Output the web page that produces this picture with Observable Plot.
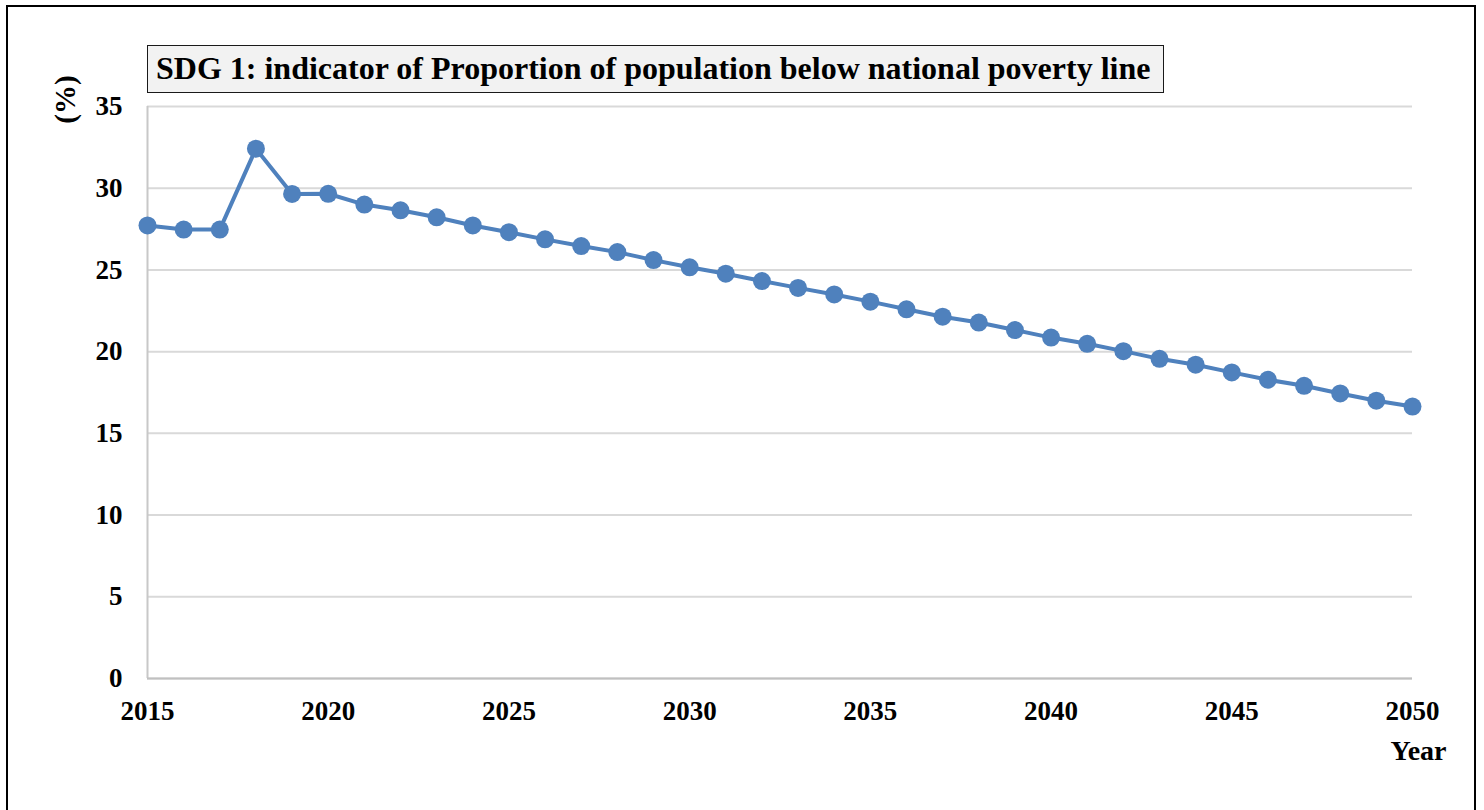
<!DOCTYPE html>
<html>
<head>
<meta charset="utf-8">
<script src="https://cdn.jsdelivr.net/npm/d3@7"></script>
<script src="https://cdn.jsdelivr.net/npm/@observablehq/plot@0.6"></script>
<style>
  html, body { margin: 0; padding: 0; background: #fff; overflow: hidden; width: 1484px; height: 810px; }
  #frame { position: absolute; left: 6px; top: 5px; width: 1470px; height: 830px; border: 2px solid #000; box-sizing: border-box; }
  #title { position: absolute; z-index: 2; left: 147px; top: 45px; width: 1017px; height: 48px; box-sizing: border-box;
           background: #f2f2f2; border: 1.5px solid #1a1a1a; font-family: "Liberation Serif", serif; font-weight: bold;
           font-size: 32px; line-height: 44px; padding-left: 8px; white-space: nowrap; color: #000; overflow: hidden; }
  #chart { position: absolute; z-index: 1; left: 0; top: 0; }
</style>
</head>
<body>
<div id="frame"></div>
<div id="chart"></div>
<div id="title"></div>
<script>
const titleText = "SDG 1: indicator of Proportion of population below national poverty line";
const years = d3.range(2015, 2051);
const values = [27.72, 27.47, 27.47, 32.42, 29.65, 29.66, 29.0, 28.65, 28.22, 27.72,
                27.31, 26.87, 26.46, 26.09, 25.6, 25.16, 24.77, 24.32, 23.9, 23.5,
                23.06, 22.59, 22.14, 21.78, 21.32, 20.86, 20.48, 20.03, 19.56, 19.2,
                18.73, 18.28, 17.91, 17.44, 17.0, 16.64];
const xTicks = [2015, 2020, 2025, 2030, 2035, 2040, 2045, 2050];
const yTicks = [0, 5, 10, 15, 20, 25, 30, 35];
const yLabel = "(%)";
const xLabel = "Year";

document.getElementById("title").textContent = titleText;

const data = years.map((y, i) => ({year: y, value: values[i]}));
const font = "Liberation Serif";

const chart = Plot.plot({
  width: 1484,
  height: 810,
  marginTop: 106,
  marginBottom: 132,
  marginLeft: 147,
  marginRight: 72,
  style: {fontFamily: font, fontWeight: "bold", fontSize: "27px", color: "#000", background: "transparent", overflow: "visible"},
  x: {domain: [2015, 2050], ticks: xTicks, tickFormat: d => String(d)},
  y: {domain: [0, 35], ticks: yTicks},
  marks: [
    Plot.gridY(yTicks, {stroke: "#d9d9d9", strokeOpacity: 1, strokeWidth: 2}),
    Plot.ruleX([2015], {stroke: "#c8c8c8", strokeWidth: 2}),
    Plot.ruleY([0], {stroke: "#c0c0c0", strokeWidth: 2}),
    Plot.axisY({ticks: yTicks, tickSize: 0, tickPadding: 25, label: null, fontSize: 27, fontWeight: "bold"}),
    Plot.axisX({ticks: xTicks, tickSize: 0, tickPadding: 22, label: null, tickFormat: d => String(d), fontSize: 27, fontWeight: "bold"}),
    Plot.line(data, {x: "year", y: "value", stroke: "#4f81bd", strokeWidth: 4}),
    Plot.dot(data, {x: "year", y: "value", fill: "#4f81bd", r: 9}),
    Plot.text([yLabel], {frameAnchor: "top-left", rotate: -90, dx: -82, dy: -7, textAnchor: "middle", lineAnchor: "middle", fontSize: 29, fontWeight: "bold"}),
    Plot.text([xLabel], {frameAnchor: "bottom-right", dx: 6, dy: 73, textAnchor: "middle", lineAnchor: "middle", fontSize: 28, fontWeight: "bold"})
  ]
});
document.getElementById("chart").appendChild(chart);
</script>
</body>
</html>
